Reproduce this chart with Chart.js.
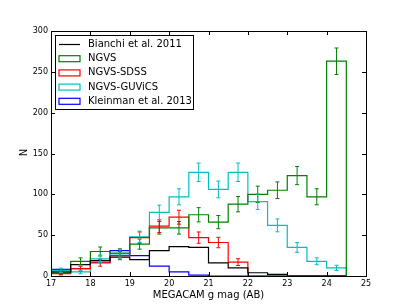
<!DOCTYPE html>
<html lang="en">
  <head>
    <meta charset="utf-8" />
    <title>g mag histogram</title>
    <style>
      * {
        margin: 0;
        padding: 0;
      }
      body {
        background: white;
      }
    </style>
  </head>
  <body>
    <canvas id="myChart" width="407" height="307"></canvas>
    <script src="https://cdn.jsdelivr.net/npm/chart.js/dist/chart.umd.min.js"></script>
    <script>
      // setup: bin left edges (0.5 mag wide)
      const binEdges = [17, 17.5, 18, 18.5, 19, 19.5, 20, 20.5, 21, 21.5, 22, 22.5, 23, 23.5, 24];
      const binWidth = 0.5;

      const bianchi = [5, 14, 19, 23, 20, 31, 36, 35, 16, 10, 4, 2, 0, 0, 0];
      const ngvs = [4, 18, 30, 28, 39, 59, 59, 75, 66, 88, 100, 105, 123, 97, 263];
      const ngvsSdss = [3, 9, 16, 25, 47, 61, 72, 47, 41, 17, 0, 0, 0, 0, 0];
      const ngvsGuvics = [7, 5, 21, 27, 48, 78, 97, 127, 106, 127, 91, 62, 35, 18, 10];
      const kleinman = [8, 9, 17, 31, 25, 12, 5, 1, 0, 0, 0, 0, 0, 0, 0];

      // error bars
      const ngvsErr = [2, 4.2, 5.5, 5.3, 6.2, 7.7, 7.7, 8.7, 8.1, 9.4, 10, 10.2, 11.1, 9.8, 16.2];
      const ngvsSdssErr = [1.7, 3, 4, 5, 6.9, 7.8, 8.5, 6.9, 6.4, 4.1];
      const ngvsGuvicsErr = [2.6, 2.2, 4.6, 5.2, 6.9, 8.8, 9.8, 11.3, 10.3, 11.3, 9.5, 7.9, 5.9, 4.2, 3.2];

      const xTicks = [17, 18, 19, 20, 21, 22, 23, 24, 25];
      const yTicks = [0, 50, 100, 150, 200, 250, 300];

      const black = "#000000";
      const green = "#008000";
      const red = "#ff0000";
      const cyan = "#00bfbf";
      const blue = "#0000ff";

      // turn counts into step points
      function steps(counts) {
        const pts = [{ x: binEdges[0], y: 0 }];
        counts.forEach((c, i) => pts.push({ x: binEdges[i], y: c }));
        pts.push({ x: binEdges[binEdges.length - 1] + binWidth, y: 0 });
        return pts;
      }

      function ds(label, counts, color, err) {
        return {
          label,
          data: steps(counts),
          borderColor: color,
          borderWidth: 1.2,
          stepped: "before",
          pointRadius: 0,
          fill: false,
          errors: err,
          counts,
        };
      }

      const data = {
        datasets: [
          ds("Bianchi et al. 2011", bianchi, black, null),
          ds("NGVS", ngvs, green, ngvsErr),
          ds("NGVS-SDSS", ngvsSdss, red, ngvsSdssErr),
          ds("NGVS-GUViCS", ngvsGuvics, cyan, ngvsGuvicsErr),
          ds("Kleinman et al. 2013", kleinman, blue, null),
        ],
      };

      // error bars at bin centres
      const errorBars = {
        id: "errorBars",
        afterDatasetsDraw(chart) {
          const { ctx, scales } = chart;
          ctx.save();
          ctx.lineWidth = 1;
          chart.data.datasets.forEach((d) => {
            if (!d.errors) return;
            ctx.strokeStyle = d.borderColor;
            d.errors.forEach((e, i) => {
              const x = scales.x.getPixelForValue(binEdges[i] + binWidth / 2);
              const y1 = scales.y.getPixelForValue(d.counts[i] - e);
              const y2 = scales.y.getPixelForValue(d.counts[i] + e);
              ctx.beginPath();
              ctx.moveTo(x, y1);
              ctx.lineTo(x, y2);
              ctx.moveTo(x - 2, y1);
              ctx.lineTo(x + 2, y1);
              ctx.moveTo(x - 2, y2);
              ctx.lineTo(x + 2, y2);
              ctx.stroke();
            });
          });
          ctx.restore();
        },
      };

      // frame, inward ticks, axis titles and legend box
      const frame = {
        id: "frame",
        afterDraw(chart) {
          const { ctx, chartArea: a, scales } = chart;
          ctx.save();
          ctx.strokeStyle = "#000";
          ctx.lineWidth = 1;
          ctx.strokeRect(a.left + 0.5, a.top + 0.5, a.right - a.left, a.bottom - a.top);
          ctx.beginPath();
          xTicks.forEach((t) => {
            const x = Math.round(scales.x.getPixelForValue(t)) + 0.5;
            ctx.moveTo(x, a.bottom);
            ctx.lineTo(x, a.bottom - 4);
            ctx.moveTo(x, a.top);
            ctx.lineTo(x, a.top + 4);
          });
          yTicks.forEach((t) => {
            const y = Math.round(scales.y.getPixelForValue(t)) + 0.5;
            ctx.moveTo(a.left, y);
            ctx.lineTo(a.left + 4, y);
            ctx.moveTo(a.right, y);
            ctx.lineTo(a.right - 4, y);
          });
          ctx.stroke();

          // axis titles
          ctx.fillStyle = "#000";
          ctx.font = "10px 'DejaVu Sans'";
          ctx.textAlign = "center";
          ctx.textBaseline = "middle";
          ctx.fillText("MEGACAM g mag (AB)", (a.left + a.right) / 2, 295);
          ctx.save();
          ctx.translate(24, (a.top + a.bottom) / 2 - 1);
          ctx.rotate(-Math.PI / 2);
          ctx.fillText("N", 0, 0);
          ctx.restore();

          // legend
          const lx = a.left + 4, ly = a.top + 4;
          ctx.textAlign = "left";
          ctx.fillStyle = "#fff";
          ctx.fillRect(lx, ly, 138, 74);
          ctx.strokeRect(lx + 0.5, ly + 0.5, 138, 74);
          chart.data.datasets.forEach((d, i) => {
            const y = ly + 9.5 + i * 14.2;
            ctx.strokeStyle = d.borderColor;
            ctx.lineWidth = 1.2;
            if (i === 0) {
              ctx.beginPath();
              ctx.moveTo(lx + 4, y);
              ctx.lineTo(lx + 25, y);
              ctx.stroke();
            } else {
              ctx.strokeRect(lx + 4, y - 3, 21, 6);
            }
            ctx.fillStyle = "#000";
            ctx.fillText(d.label, lx + 33, y);
          });
          ctx.restore();
        },
      };

      // config
      const config = {
        type: "line",
        data,
        options: {
          responsive: false,
          animation: false,
          devicePixelRatio: 1,
          layout: { padding: { top: 31, right: 41 } },
          plugins: { legend: { display: false }, tooltip: { enabled: false } },
          scales: {
            x: {
              type: "linear",
              min: 17,
              max: 25,
              afterFit: (s) => (s.height = 31),
              afterBuildTicks: (s) => (s.ticks = xTicks.map((v) => ({ value: v }))),
              grid: { display: false, drawTicks: false },
              border: { display: false },
              ticks: { color: "#000", font: { size: 8 }, padding: 3, maxRotation: 0 },
            },
            y: {
              min: 0,
              max: 300,
              afterFit: (s) => (s.width = 51),
              afterBuildTicks: (s) => (s.ticks = yTicks.map((v) => ({ value: v }))),
              grid: { display: false, drawTicks: false },
              border: { display: false },
              ticks: { color: "#000", font: { size: 8 }, padding: 3 },
            },
          },
        },
        plugins: [errorBars, frame],
      };

      Chart.defaults.font.family = "'DejaVu Sans'";

      // render init block
      const myChart = new Chart(document.getElementById("myChart"), config);
    </script>
  </body>
</html>
